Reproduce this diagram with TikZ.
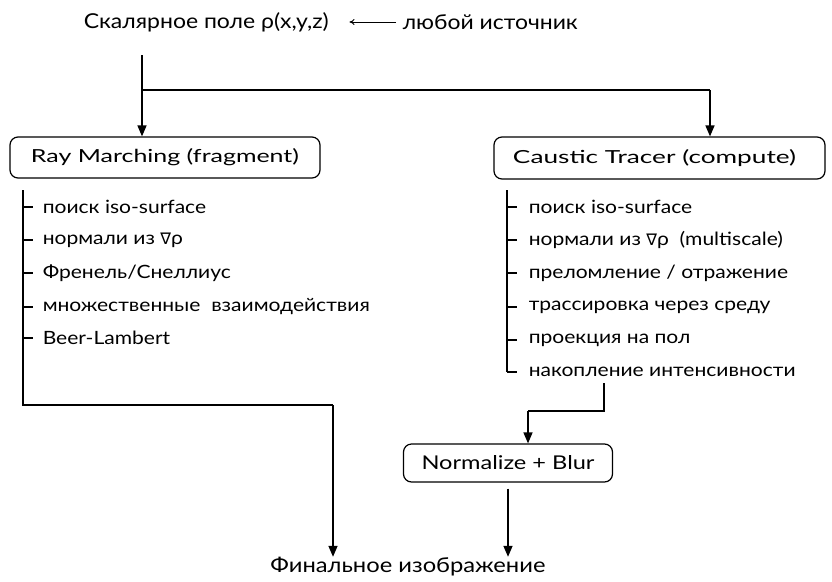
\documentclass[tikz,border=0pt]{standalone}
\usepackage{fontspec}
\setmainfont{Lato}
\newfontfamily\widefont{Lato}[FakeStretch=1.15]
\newfontfamily\symfont{DejaVu Sans}
\usetikzlibrary{arrows.meta,calc}
% set a label to a given width, keeping its height
\newcommand{\fitw}[2]{\resizebox{#1}{\height}{#2}}
\newcommand{\nablarho}{{\symfont\fontsize{16}{18}\selectfont∇}ρ}
\begin{document}
\begin{tikzpicture}[x=1pt,y=-1pt,
  line width=1.5pt,
  every node/.style={inner sep=0pt, anchor=center},
  stage/.style={draw, rounded corners=8pt, line width=1.2pt, fill=white,
    font=\fontsize{18}{21}\selectfont},
  item/.style={anchor=west, font=\widefont\fontsize{18.3}{21}\selectfont},
  flow/.style={-{Triangle[width=9pt,length=11pt]}},
  plain/.style={font=\fontsize{20.5}{24}\selectfont}]
\useasboundingbox (0,0) rectangle (832,581);

% source line
\node[plain, anchor=west] (title) at (83,22) {\fitw{245pt}{Скалярное поле ρ(x,y,z)}};
\node[plain, anchor=west] (src) at (402,22) {\fitw{175pt}{любой источник}};
\draw[line width=1pt, -{To[length=5pt,width=6pt]}] ($(src.west)+(-6,0)$) -- ($(title.east)+(20,0)$);

% split into the two passes
\coordinate (top) at (142,55);
\coordinate (split) at (142,90);
\coordinate (splitr) at (710,90);

% stage boxes
\node[stage, minimum width=310pt, minimum height=41pt] (rm) at (165,157.5)
  {\fitw{268pt}{Ray Marching (fragment)}};
\node[stage, minimum width=331pt, minimum height=42pt] (ct) at (659.5,158)
  {\hspace*{-10pt}\fitw{283pt}{Caustic Tracer (compute)}};
\node[stage, minimum width=209pt, minimum height=38pt, font=\fontsize{19}{22}\selectfont] (nb) at (508,463)
  {\fitw{173pt}{Normalize + Blur}};
\node[plain] (fin) at (408,567) {\fitw{275pt}{Финальное изображение}};

\draw (top) -- (split) -- (splitr);
\draw[flow] (split) -- (rm.north -| split);
\draw[flow] (splitr) -- (ct.north -| splitr);

% Ray Marching steps
\coordinate (l0) at (23,190);
\foreach \y/\t [count=\i] in {207/{поиск iso-surface},
    240/{нормали из \nablarho},
    273/{Френель/Снеллиус},
    307/{множественные\ \ взаимодействия},
    338/{Beer-Lambert}}{
  \node[item] (r\i) at (42,\y) {\t};
  \draw (23,\y) -- (33,\y);
}
\coordinate (l1) at (23,405);
\coordinate (l2) at (333,405);
\draw (l0) -- (l1) -- (l2);
\draw[flow] (l2) -- (fin.north -| l2);

% Caustic Tracer steps
\coordinate (c0) at (507,190);
\foreach \y/\t [count=\i] in {207/{поиск iso-surface},
    240/{нормали из \nablarho\ \ (multiscale)},
    273/{преломление / отражение},
    307/{трассировка через среду},
    340/{проекция на пол},
    372/{накопление интенсивности}}{
  \node[item] (c\i) at (528,\y) {\t};
  \draw (507,\y) -- (517,\y);
}
\draw (c0) -- (507,372);

% accumulate -> normalize -> output
\coordinate (a0) at (604,383);
\coordinate (a1) at (604,411);
\coordinate (a2) at (528,411);
\draw (a0) -- (a1) -- (a2);
\draw[flow] (a2) -- (nb.north -| a2);
\draw[flow] ($(nb.south)+(0,6)$) -- (fin.north -| nb.south);
\end{tikzpicture}
\end{document}
